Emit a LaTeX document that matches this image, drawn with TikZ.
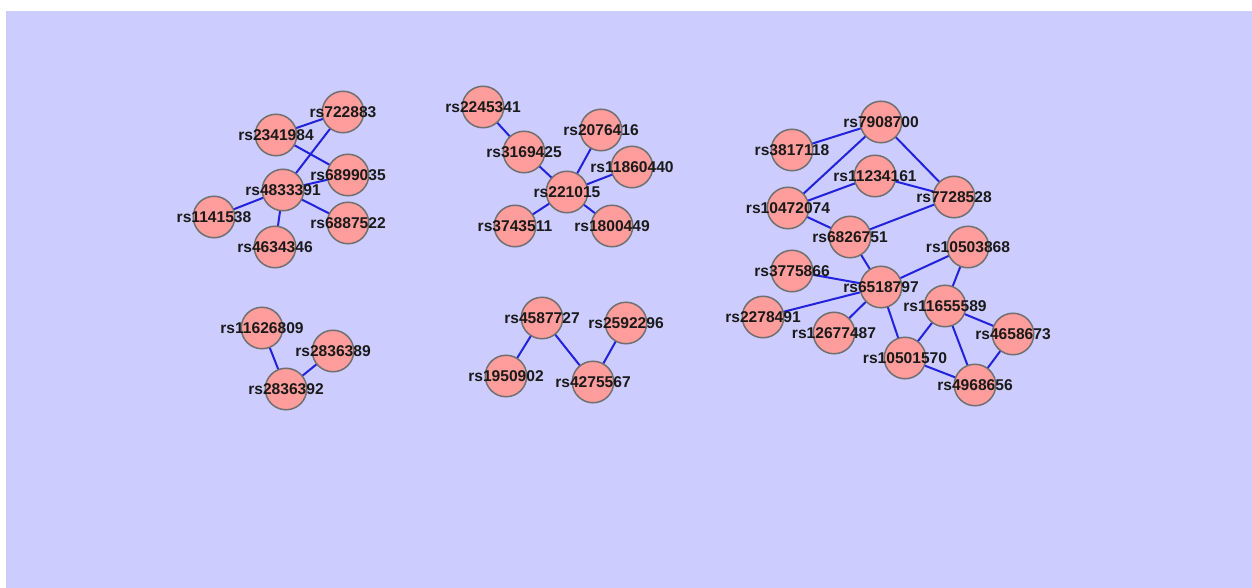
\documentclass[tikz,border=0pt]{standalone}
\usepackage{fontspec}
\setmainfont{Liberation Sans}
\pgfdeclarelayer{back}
\pgfdeclarelayer{bg}
\pgfdeclarelayer{fg}
\pgfsetlayers{back,bg,main,fg}
\definecolor{bgcol}{HTML}{CCCCFF}
\definecolor{nodecol}{HTML}{FF9C9C}
\definecolor{bordercol}{HTML}{707070}
\definecolor{edgecol}{HTML}{2222DD}
\definecolor{txtcol}{HTML}{1A1A1A}
\tikzset{
  snp/.style={circle, fill=nodecol, draw=bordercol, line width=1.5pt, minimum size=41.5pt, inner sep=0pt},
  lbl/.style={font=\fontsize{15.6}{16}\selectfont\bfseries, text=txtcol, inner sep=0pt},
  link/.style={draw=edgecol, line width=2pt}
}
\newcommand{\snpnode}[3]{\node[snp] (#1) at (#2) {}; \begin{pgfonlayer}{fg}\node[lbl] at (#1.center) {#3};\end{pgfonlayer}}
\begin{document}
\begin{tikzpicture}[x=1pt,y=-1pt]
\useasboundingbox (0,0) rectangle (1252,588);
\begin{pgfonlayer}{back}
\fill[bgcol] (6,11) rectangle (1252,588);
\end{pgfonlayer}
% left top cluster
\snpnode{a1}{343,112}{rs722883}
\snpnode{a2}{276,135}{rs2341984}
\snpnode{a3}{348,175}{rs6899035}
\snpnode{a4}{283,190}{rs4833391}
\snpnode{a5}{214,217}{rs1141538}
\snpnode{a6}{348,223}{rs6887522}
\snpnode{a7}{275,247}{rs4634346}
% middle top cluster
\snpnode{b1}{483,107}{rs2245341}
\snpnode{b2}{601,130}{rs2076416}
\snpnode{b3}{524,152}{rs3169425}
\snpnode{b4}{632,167}{rs11860440}
\snpnode{b5}{567,192}{rs221015}
\snpnode{b6}{515,226}{rs3743511}
\snpnode{b7}{612,226}{rs1800449}
% right cluster
\snpnode{c1}{881,122}{rs7908700}
\snpnode{c2}{792,150}{rs3817118}
\snpnode{c3}{875,176}{rs11234161}
\snpnode{c4}{954,197}{rs7728528}
\snpnode{c5}{788,208}{rs10472074}
\snpnode{c6}{850,237}{rs6826751}
\snpnode{c7}{968,247}{rs10503868}
\snpnode{c8}{792,271}{rs3775866}
\snpnode{c9}{881,287}{rs6518797}
\snpnode{c10}{763,317}{rs2278491}
\snpnode{c11}{945,306}{rs11655589}
\snpnode{c12}{834,333}{rs12677487}
\snpnode{c13}{1013,334}{rs4658673}
\snpnode{c14}{905,358}{rs10501570}
\snpnode{c15}{975,385}{rs4968656}
% bottom left
\snpnode{d1}{262,328}{rs11626809}
\snpnode{d2}{333,351}{rs2836389}
\snpnode{d3}{286,389}{rs2836392}
% bottom middle
\snpnode{e1}{542,318}{rs4587727}
\snpnode{e2}{626,323}{rs2592296}
\snpnode{e3}{506,376}{rs1950902}
\snpnode{e4}{593,382}{rs4275567}
\begin{pgfonlayer}{bg}
\draw[link] (a2.center) -- (a1.center);
\draw[link] (a1.center) -- (a4.center);
\draw[link] (a2.center) -- (a3.center);
\draw[link] (a4.center) -- (a3.center);
\draw[link] (a4.center) -- (a5.center);
\draw[link] (a4.center) -- (a6.center);
\draw[link] (a4.center) -- (a7.center);
\draw[link] (b1.center) -- (b3.center);
\draw[link] (b3.center) -- (b5.center);
\draw[link] (b2.center) -- (b5.center);
\draw[link] (b4.center) -- (b5.center);
\draw[link] (b6.center) -- (b5.center);
\draw[link] (b7.center) -- (b5.center);
\draw[link] (c2.center) -- (c1.center);
\draw[link] (c1.center) -- (c5.center);
\draw[link] (c1.center) -- (c4.center);
\draw[link] (c3.center) -- (c5.center);
\draw[link] (c3.center) -- (c4.center);
\draw[link] (c5.center) -- (c6.center);
\draw[link] (c6.center) -- (c4.center);
\draw[link] (c6.center) -- (c9.center);
\draw[link] (c8.center) -- (c9.center);
\draw[link] (c10.center) -- (c9.center);
\draw[link] (c12.center) -- (c9.center);
\draw[link] (c9.center) -- (c7.center);
\draw[link] (c9.center) -- (c14.center);
\draw[link] (c7.center) -- (c11.center);
\draw[link] (c11.center) -- (c14.center);
\draw[link] (c11.center) -- (c13.center);
\draw[link] (c11.center) -- (c15.center);
\draw[link] (c14.center) -- (c15.center);
\draw[link] (c13.center) -- (c15.center);
\draw[link] (d1.center) -- (d3.center);
\draw[link] (d2.center) -- (d3.center);
\draw[link] (e1.center) -- (e3.center);
\draw[link] (e1.center) -- (e4.center);
\draw[link] (e2.center) -- (e4.center);
\end{pgfonlayer}
\end{tikzpicture}
\end{document}
